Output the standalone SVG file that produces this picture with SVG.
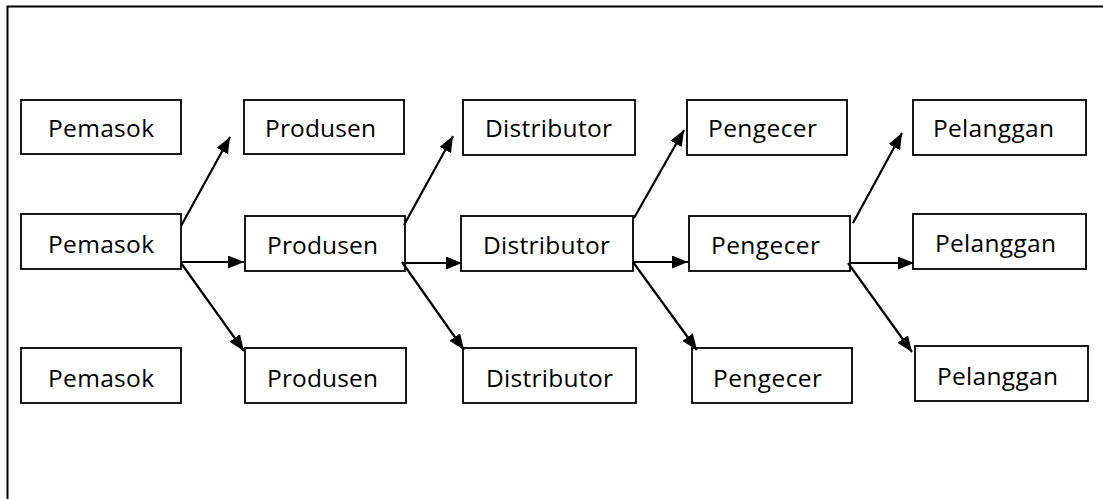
<svg xmlns="http://www.w3.org/2000/svg" width="1103" height="499" viewBox="0 0 1103 499">
  <style>
    .box rect { fill: #fff; stroke: #000; stroke-width: 1.8; }
    .box text { font-family: "Open Sans", "Liberation Sans", sans-serif; font-size: 24.5px; fill: #000; }
    .link { stroke: #000; stroke-width: 2.2; fill: none; marker-end: url(#arrow); }
    .frame { stroke: #000; stroke-width: 2; fill: none; }
  </style>
  <defs>
    <marker id="arrow" markerUnits="userSpaceOnUse" markerWidth="17" markerHeight="14" refX="16" refY="6.5" orient="auto">
      <path d="M0,0 L16,6.5 L0,13 z" fill="#000"/>
    </marker>
  </defs>

  <rect x="0" y="0" width="1103" height="499" fill="#fff"/>
  <path class="frame" d="M7.5,499 V6.5 H1103"/>

  <!-- column 1: suppliers -->
  <g id="pemasok-1" class="box"><rect x="21" y="100" width="160" height="54"/><text x="48" y="137" textLength="106">Pemasok</text></g>
  <g id="pemasok-2" class="box"><rect x="21" y="214" width="160" height="55"/><text x="48" y="253" textLength="106">Pemasok</text></g>
  <g id="pemasok-3" class="box"><rect x="21" y="348" width="160" height="55"/><text x="48" y="387" textLength="106">Pemasok</text></g>

  <!-- column 2: producers -->
  <g id="produsen-1" class="box"><rect x="244" y="100" width="160" height="54"/><text x="265" y="137" textLength="111">Produsen</text></g>
  <g id="produsen-2" class="box"><rect x="245" y="216" width="160" height="55"/><text x="267" y="254" textLength="111">Produsen</text></g>
  <g id="produsen-3" class="box"><rect x="245" y="348" width="161" height="55"/><text x="267" y="387" textLength="111">Produsen</text></g>

  <!-- column 3: distributors -->
  <g id="distributor-1" class="box"><rect x="463" y="100" width="172" height="55"/><text x="485" y="137" textLength="127">Distributor</text></g>
  <g id="distributor-2" class="box"><rect x="461" y="216" width="172" height="55"/><text x="483" y="254" textLength="127">Distributor</text></g>
  <g id="distributor-3" class="box"><rect x="463" y="348" width="173" height="55"/><text x="486" y="387" textLength="127">Distributor</text></g>

  <!-- column 4: retailers -->
  <g id="pengecer-1" class="box"><rect x="687" y="100" width="160" height="55"/><text x="708" y="137" textLength="109">Pengecer</text></g>
  <g id="pengecer-2" class="box"><rect x="689" y="216" width="161" height="55"/><text x="711" y="254" textLength="109">Pengecer</text></g>
  <g id="pengecer-3" class="box"><rect x="692" y="348" width="160" height="55"/><text x="713" y="387" textLength="109">Pengecer</text></g>

  <!-- column 5: customers -->
  <g id="pelanggan-1" class="box"><rect x="913" y="100" width="173" height="55"/><text x="933" y="137" textLength="121">Pelanggan</text></g>
  <g id="pelanggan-2" class="box"><rect x="913" y="214" width="173" height="55"/><text x="935" y="252" textLength="121">Pelanggan</text></g>
  <g id="pelanggan-3" class="box"><rect x="915" y="346" width="173" height="55"/><text x="937" y="385" textLength="121">Pelanggan</text></g>

  <!-- connectors -->
  <g id="connectors">
    <line class="link" x1="181" y1="226" x2="230" y2="137"/>
    <line class="link" x1="181" y1="262" x2="244" y2="262"/>
    <line class="link" x1="181" y1="263" x2="244" y2="351"/>

    <line class="link" x1="404" y1="225" x2="453" y2="136"/>
    <line class="link" x1="403" y1="263" x2="462" y2="263"/>
    <line class="link" x1="402" y1="262" x2="464" y2="350"/>

    <line class="link" x1="634" y1="218" x2="684" y2="130"/>
    <line class="link" x1="633" y1="262" x2="688" y2="262"/>
    <line class="link" x1="633" y1="262" x2="697" y2="350"/>

    <line class="link" x1="853" y1="223" x2="902" y2="133"/>
    <line class="link" x1="850" y1="263" x2="914" y2="263"/>
    <line class="link" x1="848" y1="263" x2="912" y2="352"/>
  </g>
</svg>
